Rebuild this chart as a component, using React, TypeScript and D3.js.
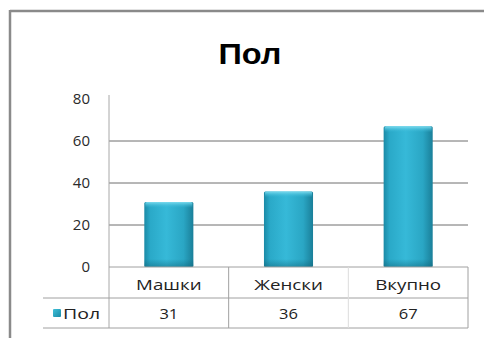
import React from "react";
import * as d3 from "d3";

const title = "Пол";
const categories = ["Машки", "Женски", "Вкупно"];
const seriesName = "Пол";
const values = [31, 36, 67];
const yTicks = [0, 20, 40, 60, 80];

const W = 484;
const H = 338;
const plot = { left: 109, right: 468, top: 99, bottom: 267 };
const tableRow1 = 298;
const tableBottom = 328;
const tableLeft = 43;

export default function App() {
  const x = d3.scaleBand<string>().domain(categories).range([plot.left, plot.right]).paddingInner(0.59).paddingOuter(0.295);
  const y = d3.scaleLinear().domain([0, 80]).range([plot.bottom, plot.top]);
  const font = "'Open Sans', 'Noto Sans', sans-serif";
  const colW = (plot.right - plot.left) / categories.length;
  return (
    <svg width={W} height={H} style={{ position: "fixed", left: 0, top: 0, background: "#fff" }}>
      <defs>
        <linearGradient id="barGrad" x1="0" x2="1" y1="0" y2="0">
          <stop offset="0" stopColor="#1b8aa6" />
          <stop offset="0.12" stopColor="#2aa9c8" />
          <stop offset="0.45" stopColor="#36b9d8" />
          <stop offset="0.8" stopColor="#2aa6c4" />
          <stop offset="1" stopColor="#1a7f99" />
        </linearGradient>
        <linearGradient id="topGrad" x1="0" x2="0" y1="0" y2="1">
          <stop offset="0" stopColor="#7fdcef" />
          <stop offset="1" stopColor="#36b9d8" stopOpacity="0" />
        </linearGradient>
        <linearGradient id="botGrad" x1="0" x2="0" y1="0" y2="1">
          <stop offset="0" stopColor="#0f5f73" stopOpacity="0" />
          <stop offset="1" stopColor="#0f5f73" stopOpacity="0.45" />
        </linearGradient>
        <linearGradient id="keyGrad" x1="0" x2="1" y1="0" y2="1">
          <stop offset="0" stopColor="#3fc0d8" />
          <stop offset="1" stopColor="#1b8aa6" />
        </linearGradient>
      </defs>
      <rect x={0} y={0} width={W} height={H} fill="#fff" />
      {/* frame */}
      <line x1={10} x2={W} y1={11} y2={11} stroke="#8a8a8a" strokeWidth={2.5} />
      <line x1={10} x2={10} y1={10} y2={H} stroke="#8a8a8a" strokeWidth={2.5} />
      <text transform="translate(250,64) scale(1.12,1)" textAnchor="middle" fontFamily="'Liberation Sans', Arial, sans-serif" fontWeight="bold" fontSize={29} fill="#000">
        {title}
      </text>
      {/* gridlines */}
      {yTicks.filter((t) => t > 0 && t < 80).map((t) => (
        <line key={t} x1={plot.left} x2={plot.right} y1={y(t)} y2={y(t)} stroke="#6e6e6e" strokeWidth={1} />
      ))}
      {/* y axis */}
      <line x1={plot.left} x2={plot.left} y1={plot.top - 4} y2={tableBottom} stroke="#a8a8a8" strokeWidth={1} />
      {yTicks.map((t) => (
        <text key={t} x={90} y={y(t) + 5} textAnchor="end" fontFamily={font} fontSize={15} fill="#2a2a2a">
          {t}
        </text>
      ))}
      {/* bars */}
      {categories.map((c, i) => (
        <g key={c}>
          <rect x={x(c)} y={y(values[i])} width={x.bandwidth()} height={plot.bottom - y(values[i])} fill="url(#barGrad)" rx={1.5} />
          <rect x={x(c)! + 1} y={y(values[i])} width={x.bandwidth() - 2} height={6} fill="url(#topGrad)" rx={1.5} />
          <rect x={x(c)} y={plot.bottom - 8} width={x.bandwidth()} height={8} fill="url(#botGrad)" />
        </g>
      ))}
      {/* data table */}
      <line x1={plot.left} x2={plot.right} y1={plot.bottom} y2={plot.bottom} stroke="#a0a0a0" />
      <line x1={tableLeft} x2={plot.right} y1={tableRow1} y2={tableRow1} stroke="#a0a0a0" />
      <line x1={tableLeft} x2={plot.right} y1={tableBottom} y2={tableBottom} stroke="#a0a0a0" />
      {categories.map((c, i) => (
        <line key={c} x1={plot.left + colW * (i + 1)} x2={plot.left + colW * (i + 1)} y1={plot.bottom} y2={tableBottom} stroke={i === 1 ? "#dcdcdc" : "#a0a0a0"} />
      ))}
      {categories.map((c, i) => (
        <text key={c} transform={`translate(${plot.left + colW * (i + 0.5)},290) scale(1.25,1)`} textAnchor="middle" fontFamily={font} fontSize={15} fill="#222">
          {c}
        </text>
      ))}
      {values.map((v, i) => (
        <text key={i} transform={`translate(${plot.left + colW * (i + 0.5)},319) scale(1.1,1)`} textAnchor="middle" fontFamily={font} fontSize={15} fill="#222">
          {v}
        </text>
      ))}
      <rect x={53} y={309} width={8} height={8} fill="url(#keyGrad)" rx={1} />
      <text transform="translate(63,319) scale(1.3,1)" fontFamily={font} fontSize={15} fill="#222">
        {seriesName}
      </text>
    </svg>
  );
}
